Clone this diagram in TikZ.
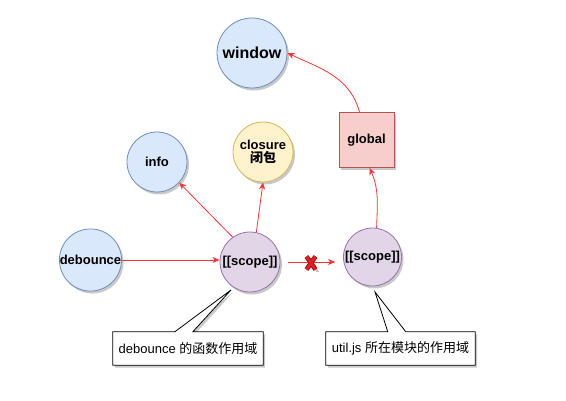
\documentclass[tikz,border=0pt]{standalone}
\usepackage{fontspec}
\setmainfont{Liberation Sans}
\newfontfamily\cjk{Noto Sans CJK SC}
\usetikzlibrary{shadows,arrows.meta,calc}
\definecolor{bluefill}{HTML}{DAE8FC}
\definecolor{bluedraw}{HTML}{6C8EBF}
\definecolor{yelfill}{HTML}{FFF2CC}
\definecolor{yeldraw}{HTML}{D6B656}
\definecolor{purfill}{HTML}{E1D5E7}
\definecolor{purdraw}{HTML}{9673A6}
\definecolor{redfill}{HTML}{F8CECC}
\definecolor{reddraw}{HTML}{B85450}
\definecolor{arrowred}{HTML}{FF3333}
\definecolor{xdark}{HTML}{8B1010}
\definecolor{xred}{HTML}{E02020}
\tikzset{
  shd/.style={drop shadow={shadow xshift=2pt,shadow yshift=-2.5pt,opacity=0.3,fill=black!70}},
  circ/.style={circle,minimum size=60pt,inner sep=0pt,line width=0.8pt,shd,font=\bfseries\fontsize{13}{15}\selectfont,align=center},
  bluec/.style={circ,fill=bluefill,draw=bluedraw},
  yelc/.style={circ,fill=yelfill,draw=yeldraw},
  purc/.style={circ,fill=purfill,draw=purdraw},
  redbox/.style={rectangle,minimum width=55pt,minimum height=55pt,inner sep=0pt,fill=redfill,draw=reddraw,line width=0.8pt,shd,font=\bfseries\fontsize{13}{15}\selectfont},
  conn/.style={draw=arrowred,line width=0.8pt,-{Stealth[length=7pt,width=6pt,inset=2pt]}},
  callout/.style={fill=white,draw=black,line width=0.8pt,shd},
  calltext/.style={minimum width=150pt,minimum height=33pt,inner sep=0pt,font=\fontsize{13}{15}\selectfont}
}
\begin{document}
\begin{tikzpicture}[x=1pt,y=1pt]
\useasboundingbox (0,0) rectangle (566,-401);
\node[bluec,minimum size=70pt,font=\bfseries\fontsize{16}{18}\selectfont] (window) at (252,-53) {window};
\node[bluec] (info) at (157,-162) {info};
\node[yelc] (closure) at (263,-152) {closure\\[-2pt]{\cjk 闭包}};
\node[redbox] (global) at (366.5,-140) {global};
\node[bluec] (debounce) at (90.5,-260) {debounce};
\node[purc] (scope1) at (250,-262) {[[scope]]};
\node[purc,minimum size=58pt] (scope2) at (372.5,-257) {[[scope]]};

% callouts
\node[calltext] (c1) at (188,-348.5) {};
\coordinate (t1) at (231,-290);
\path[callout] (c1.north west) -- ($(c1.north west)+(62,0)$) -- (t1) -- ($(c1.north west)+(80,0)$) -- (c1.north east) -- (c1.south east) -- (c1.south west) -- cycle;
\node[calltext] at (c1) {debounce {\cjk 的函数作用域}};
\node[calltext,minimum width=149pt] (c2) at (400.5,-348.5) {};
\coordinate (t2) at (375,-292);
\path[callout] (c2.north west) -- ($(c2.north west)+(62,0)$) -- (t2) -- ($(c2.north west)+(80,0)$) -- (c2.north east) -- (c2.south east) -- (c2.south west) -- cycle;
\node[calltext,minimum width=149pt] at (c2) {util.js {\cjk 所在模块的作用域}};

% connectors
\draw[conn] (debounce.east) -- (debounce.east -| scope1.west);
\draw[conn] (scope1.125) -- (info.-43);
\draw[conn] (scope1.78) -- (closure.south);
\draw[conn,shorten <=8pt,shorten >=8pt] (scope1.east |- 0,-262) -- (scope2.west |- 0,-262);
\draw[conn] (scope2.82) to[out=88,in=-66] ([xshift=3pt]global.south);
\draw[conn] ([xshift=-7pt]global.north) to[out=105,in=-25] (window.east);

% red X
\coordinate (xm) at (311,-263);
\begin{scope}[line cap=butt]
\fill[black,opacity=0.25] ($(xm)+(-4,7)+(1.5,-2)$) -- ++(2.5,0) -- ++(8,-14) -- ++(-2.5,0) -- cycle;
\draw[xdark,line width=4.6pt] ($(xm)+(-4.5,6.5)$) -- ($(xm)+(4.5,-6.5)$);
\draw[xdark,line width=4.6pt] ($(xm)+(4.5,6.5)$) -- ($(xm)+(-4.5,-6.5)$);
\draw[xred,line width=3pt] ($(xm)+(-4.5,6.5)$) -- ($(xm)+(4.5,-6.5)$);
\draw[xred,line width=3pt] ($(xm)+(4.5,6.5)$) -- ($(xm)+(-4.5,-6.5)$);
\end{scope}
\end{tikzpicture}
\end{document}
